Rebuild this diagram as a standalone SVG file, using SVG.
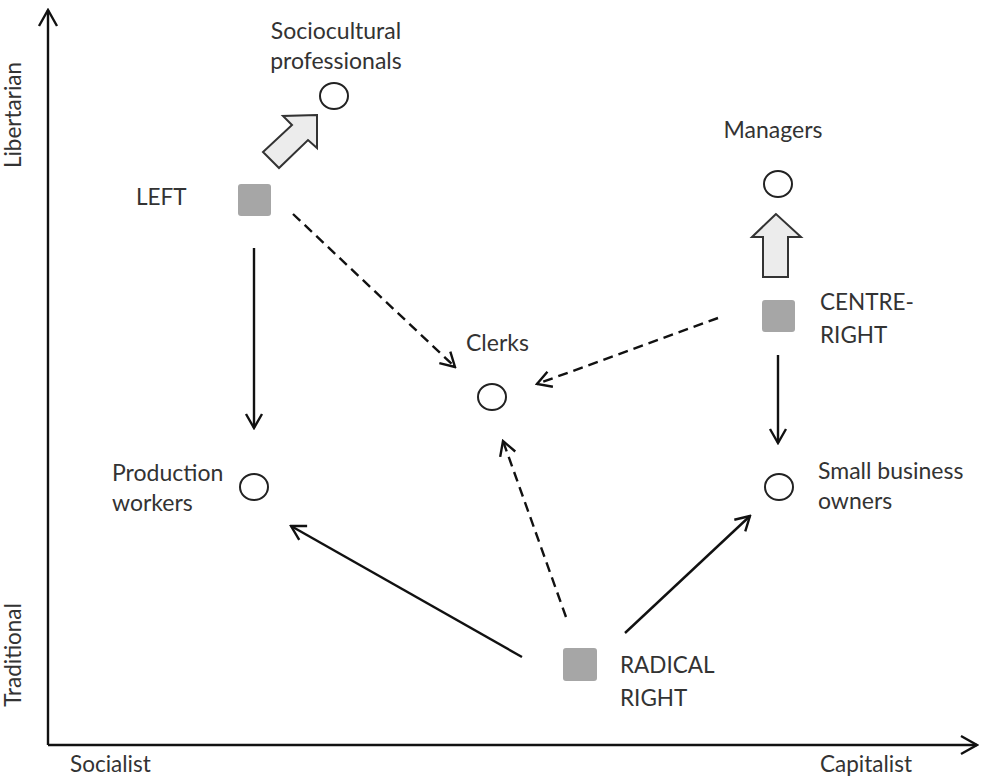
<svg xmlns="http://www.w3.org/2000/svg" width="982" height="782" viewBox="0 0 982 782">
<style>
  .t { font-family: Lato, "Open Sans", "Liberation Sans", sans-serif; font-size: 23px; fill: #333; }
  .big { font-size: 22.5px; }
  .ax { font-size: 22.5px; }
  .party { fill: #a6a6a6; }
  .grp { fill: #fff; stroke: #222; stroke-width: 2; }
  .conn { fill: none; stroke: #111; stroke-width: 2.4; }
  .dash { stroke-dasharray: 10 6; }
  .block { fill: #ececec; stroke: #333; stroke-width: 2; stroke-linejoin: miter; }
</style>
<defs>
  <marker id="chev" viewBox="0 0 20 20" refX="18" refY="10" markerWidth="20" markerHeight="20" markerUnits="userSpaceOnUse" orient="auto">
    <path d="M4,2 L18,10 L4,18" fill="none" stroke="#111" stroke-width="2.4"/>
  </marker>
  <marker id="axchev" viewBox="0 0 24 24" refX="22" refY="12" markerWidth="24" markerHeight="24" markerUnits="userSpaceOnUse" orient="auto">
    <path d="M6,3 L22,12 L6,21" fill="none" stroke="#111" stroke-width="2.4"/>
  </marker>
</defs>
<rect width="982" height="782" fill="#fff"/>

<g id="axes">
  <path class="conn" d="M48,745 L48,10" marker-end="url(#axchev)"/>
  <path class="conn" d="M48,745 L977,745" marker-end="url(#axchev)"/>
  <text class="t ax" transform="translate(21,115) rotate(-90)" text-anchor="middle">Libertarian</text>
  <text class="t ax" transform="translate(21,655) rotate(-90)" text-anchor="middle">Traditional</text>
  <text class="t ax" x="70" y="772">Socialist</text>
  <text class="t ax" x="820" y="772">Capitalist</text>
</g>

<g id="connectors">
  <path class="conn" d="M254,248 L254,428" marker-end="url(#chev)"/>
  <path class="conn" d="M778,355 L778,443" marker-end="url(#chev)"/>
  <path class="conn dash" d="M293,214 L455,367" marker-end="url(#chev)"/>
  <path class="conn dash" d="M718,318 L537,384" marker-end="url(#chev)"/>
  <path class="conn dash" d="M566,617 L503,441" marker-end="url(#chev)"/>
  <path class="conn" d="M522,657 L291,526" marker-end="url(#chev)"/>
  <path class="conn" d="M625,633 L750,516" marker-end="url(#chev)"/>
  <polygon class="block" points="317,115 283,116 292,125 263,152 279,168 308,140 317,148"/>
  <polygon class="block" points="776,214 752,237 763,237 763,277 788,277 788,237 801,237"/>
</g>

<g id="sociocultural">
  <ellipse class="grp" cx="334" cy="96" rx="14" ry="13"/>
  <text class="t" x="336" y="39" text-anchor="middle">Sociocultural</text>
  <text class="t" x="336" y="69" text-anchor="middle">professionals</text>
</g>

<g id="managers">
  <ellipse class="grp" cx="778" cy="184" rx="14" ry="13"/>
  <text class="t" x="773" y="138" text-anchor="middle">Managers</text>
</g>

<g id="clerks">
  <ellipse class="grp" cx="492" cy="397" rx="14" ry="13"/>
  <text class="t" x="466" y="351">Clerks</text>
</g>

<g id="production-workers">
  <ellipse class="grp" cx="254" cy="487" rx="14" ry="13"/>
  <text class="t" x="112" y="481">Production</text>
  <text class="t" x="112" y="511">workers</text>
</g>

<g id="small-business-owners">
  <ellipse class="grp" cx="779" cy="487" rx="14" ry="13"/>
  <text class="t" x="818" y="479">Small business</text>
  <text class="t" x="818" y="509">owners</text>
</g>

<g id="left">
  <rect class="party" x="238" y="184" width="33" height="32" rx="3"/>
  <text class="t big" x="136" y="205">LEFT</text>
</g>

<g id="centre-right">
  <rect class="party" x="762" y="300" width="33" height="32" rx="3"/>
  <text class="t big" x="820" y="310">CENTRE-</text>
  <text class="t big" x="820" y="343">RIGHT</text>
</g>

<g id="radical-right">
  <rect class="party" x="563" y="648" width="34" height="33" rx="3"/>
  <text class="t big" x="620" y="673">RADICAL</text>
  <text class="t big" x="620" y="706">RIGHT</text>
</g>
</svg>
